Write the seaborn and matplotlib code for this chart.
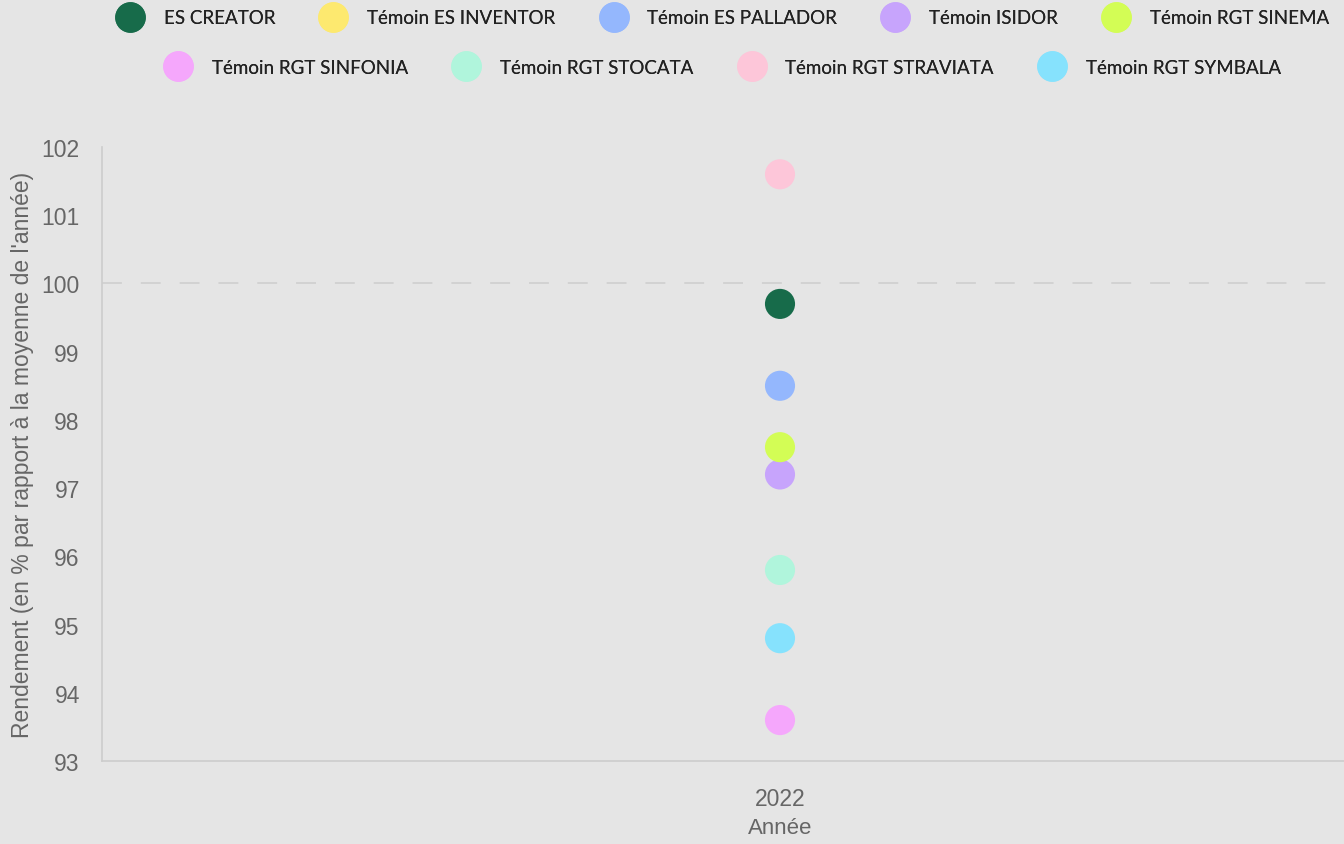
import pandas as pd
import numpy as np
import seaborn as sns
import matplotlib.pyplot as plt
from matplotlib.lines import Line2D

# values
varieties = ["ES CREATOR", "Témoin ES INVENTOR", "Témoin ES PALLADOR", "Témoin ISIDOR",
             "Témoin RGT SINEMA", "Témoin RGT SINFONIA", "Témoin RGT STOCATA",
             "Témoin RGT STRAVIATA", "Témoin RGT SYMBALA"]
colors = ["#176b4a", "#fde96f", "#94b7fd", "#c7a4fc", "#d3fd55",
          "#f5a7fc", "#b0f5dc", "#fdc6d9", "#86e2fd"]
years = ["2022"] * 9
rendement = [99.7, np.nan, 98.5, 97.2, 97.6, 93.6, 95.8, 101.6, 94.8]

df = pd.DataFrame({"Variété": varieties, "Année": years, "Rendement": rendement})
palette = dict(zip(varieties, colors))

bg = "#e5e5e5"
sns.set_theme(style="white", rc={"axes.facecolor": bg, "figure.facecolor": bg})
plt.rcParams["font.family"] = ["Liberation Sans", "DejaVu Sans"]

fig = plt.figure(figsize=(13.44, 8.45), dpi=100)
ax = fig.add_axes([102 / 1344, 83 / 845, 1242 / 1344, 614 / 845])

sns.scatterplot(data=df.dropna(), x="Année", y="Rendement", hue="Variété",
                hue_order=varieties, palette=palette, s=470, linewidth=0,
                legend=False, ax=ax, zorder=3)

ax.set_xlim(-0.5, 0.5 * (1344 - 780) / 678)
ax.set_ylim(93, 102)
ax.set_yticks(range(93, 103))
# reference line at 100 %
ax.axhline(100, color="#d0d0d0", linestyle=(0, (11, 10.5)), linewidth=1.3, zorder=1)

for side in ["top", "right"]:
    ax.spines[side].set_visible(False)
for side in ["left", "bottom"]:
    ax.spines[side].set_color("#cccccc")
    ax.spines[side].set_linewidth(1.2)

ax.tick_params(axis="y", length=0, pad=16, labelsize=16.5, labelcolor="#666666")
ax.tick_params(axis="x", length=0, pad=19, labelsize=16.5, labelcolor="#666666")
ax.set_xlabel("Année", fontsize=16, color="#666666")
ax.xaxis.set_label_coords((780 - 102) / 1242, -56 / 614)
ax.set_ylabel("Rendement (en % par rapport à la moyenne de l'année)", fontsize=16.5,
              color="#666666")
ax.yaxis.set_label_coords(-68 / 1242, 0.5)

# legend in two centered rows
def make_handles(names):
    return [Line2D([], [], marker="o", linestyle="", markersize=22,
                   markerfacecolor=palette[n], markeredgewidth=0) for n in names]

rows = [varieties[:5], varieties[5:]]
ys = [1 - 19 / 845, 1 - 68 / 845]
for names, yy in zip(rows, ys):
    leg = fig.legend(make_handles(names), names, loc="center", bbox_to_anchor=(722 / 1344, yy),
                     ncol=len(names), frameon=False, handlelength=1.6, handletextpad=1.0,
                     columnspacing=2.3, prop={"family": "Lato", "size": 13.5})
    for t in leg.get_texts():
        t.set_color("#222222")
    fig.add_artist(leg)

plt.savefig("out.png", dpi=100, facecolor=bg)
